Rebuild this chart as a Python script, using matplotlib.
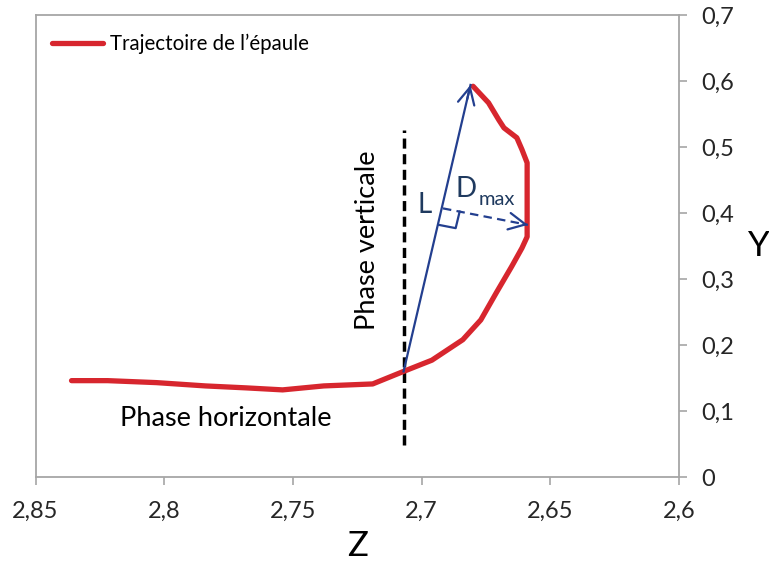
import numpy as np
import matplotlib
matplotlib.use('Agg')
import matplotlib.pyplot as plt
from matplotlib.ticker import FixedLocator, FixedFormatter

# ---------------------------
# Données
# ---------------------------
traj_z = [2.836, 2.822, 2.803, 2.784, 2.768, 2.754, 2.738, 2.719, 2.707,
          2.696, 2.684, 2.677, 2.671, 2.665, 2.661, 2.659, 2.659, 2.659,
          2.659, 2.659, 2.661, 2.663, 2.668, 2.670, 2.674, 2.680]
traj_y = [0.146, 0.146, 0.143, 0.138, 0.135, 0.132, 0.138, 0.141, 0.160,
          0.177, 0.208, 0.238, 0.279, 0.319, 0.347, 0.364, 0.382, 0.415,
          0.450, 0.476, 0.496, 0.514, 0.529, 0.541, 0.567, 0.592]

x_ticks = [2.85, 2.8, 2.75, 2.7, 2.65, 2.6]
x_labels = ['2,85', '2,8', '2,75', '2,7', '2,65', '2,6']
y_ticks = [0, 0.1, 0.2, 0.3, 0.4, 0.5, 0.6, 0.7]
y_labels = ['0', '0,1', '0,2', '0,3', '0,4', '0,5', '0,6', '0,7']

# annotations
phase_z = 2.707
phase_y = [0.048, 0.526]
L_start = (2.707, 0.160)
L_end = (2.681, 0.594)
D_start = (2.6917, 0.407)
D_end = (2.6587, 0.382)

ROUGE = '#d7262e'
BLEU = '#233f8f'
GRIS = '#a6a6a6'
TEXTE = '#262626'

plt.rcParams['font.family'] = ['Lato', 'DejaVu Sans']

fig = plt.figure(figsize=(7.69, 5.65), dpi=100)
ax = fig.add_axes([35.5 / 769, 1 - 477 / 565, 643.5 / 769, 462 / 565])

ax.plot(traj_z, traj_y, '-', color=ROUGE, linewidth=3.8,
        solid_capstyle='round', solid_joinstyle='round', zorder=3,
        label='Trajectoire de l\u2019épaule')

ax.set_xlim(2.85, 2.6)
ax.set_ylim(0, 0.7)

# ligne de séparation des phases
ax.plot([phase_z, phase_z], phase_y, color='black', linewidth=2.5,
        dashes=(2.9, 1.6), zorder=2)

tete = '->,head_length=0.6,head_width=0.3'

# flèche L
ax.plot([L_start[0], L_end[0]], [L_start[1], L_end[1]], color=BLEU,
        linewidth=1.6, zorder=4)
# flèche Dmax (pointillés)
ax.plot([D_start[0], D_end[0]], [D_start[1], D_end[1]], color=BLEU,
        linewidth=1.6, dashes=(3.8, 2.4), zorder=4)

# têtes de flèches, pleines
for a, b in [(L_start, L_end), (D_start, D_end)]:
    p = (b[0] - 0.05 * (b[0] - a[0]), b[1] - 0.05 * (b[1] - a[1]))
    ax.annotate('', xy=b, xytext=p,
                arrowprops=dict(arrowstyle=tete, color=BLEU, lw=1.6,
                                shrinkA=0, shrinkB=0, mutation_scale=20),
                zorder=5)

# angle droit
fig.canvas.draw()
to_px = ax.transData.transform
F = to_px(D_start)
u = to_px(L_start) - F
u = u / np.linalg.norm(u)
v = to_px(D_end) - F
v = v / np.linalg.norm(v)
s = 17
coins = np.array([F + s * v, F + s * v + s * u, F + s * u])
coins = ax.transData.inverted().transform(coins)
ax.plot(coins[:, 0], coins[:, 1], color=BLEU, linewidth=1.6, zorder=4)

# textes
ax.text(2.776, 0.089, 'Phase horizontale', fontsize=19.5, color='black',
        ha='center', va='center')
ax.text(2.721, 0.359, 'Phase verticale', fontsize=19.5, color='black',
        ha='center', va='center', rotation=90)
ax.text(2.6988, 0.412, 'L', fontsize=20, color='#1f3a5f',
        ha='center', va='center')
ax.text(2.6826, 0.436, 'D', fontsize=20, color='#1f3a5f',
        ha='center', va='center')
ax.text(2.6707, 0.421, 'max', fontsize=14.5, color='#1f3a5f',
        ha='center', va='center')

# axes
ax.xaxis.set_major_locator(FixedLocator(x_ticks))
ax.xaxis.set_major_formatter(FixedFormatter(x_labels))
ax.yaxis.set_major_locator(FixedLocator(y_ticks))
ax.yaxis.set_major_formatter(FixedFormatter(y_labels))
ax.yaxis.tick_right()
ax.yaxis.set_label_position('right')
ax.tick_params(axis='both', direction='out', length=6, width=1.2,
               color=GRIS, labelsize=17, labelcolor=TEXTE)
ax.tick_params(axis='x', pad=11)
ax.tick_params(axis='y', pad=10)

for sp in ax.spines.values():
    sp.set_color(GRIS)
    sp.set_linewidth(1.3)

ax.set_xlabel('Z', fontsize=25, labelpad=6)
ax.set_ylabel('Y', fontsize=25, rotation=0, labelpad=18, va='center')

ax.legend(loc='center left', bbox_to_anchor=(0.0256, 0.937), frameon=False,
          fontsize=14.8, handlelength=2.48, handletextpad=0.34, borderpad=0,
          borderaxespad=0)

fig.savefig('out.png', dpi=100)
